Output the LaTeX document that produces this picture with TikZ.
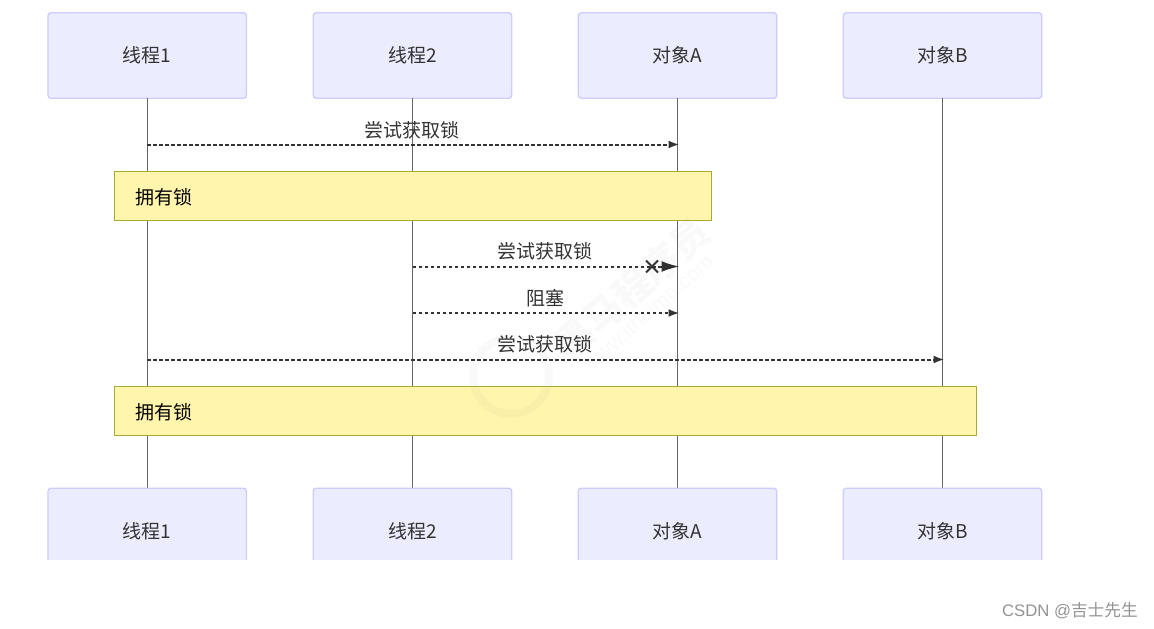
\documentclass[tikz,border=0pt]{standalone}
\usepackage{fontspec}
\setmainfont{Noto Sans CJK SC}
\newfontfamily\latinmark{Liberation Sans}
\usetikzlibrary{arrows.meta}
\definecolor{actorfill}{HTML}{ECECFF}
\definecolor{actorline}{HTML}{CCCCFF}
\definecolor{notefill}{HTML}{FFF5AD}
\definecolor{noteline}{HTML}{AAAA33}
\definecolor{ink}{HTML}{333333}
\tikzset{
  x=1pt,y=-1pt,
  actorbox/.style={draw=actorline,fill=actorfill,line width=1.4pt,rounded corners=3pt,minimum width=198.5pt,minimum height=85.5pt,inner sep=0pt,outer sep=0pt,text=ink,font=\fontsize{19}{22}\selectfont},
  actorlabel/.style={inner sep=0pt,text=ink,font=\fontsize{19}{22}\selectfont},
  lifeline/.style={draw=black!60,line width=1.2pt},
  dashline/.style={draw=ink,line width=2pt,dash pattern=on 3.5pt off 2.5pt},
  msg/.style={dashline,-{Latex[length=11pt,width=8pt]}},
  msglabel/.style={inner sep=0pt,text=ink,font=\fontsize{19}{22}\selectfont},
  notebox/.style={draw=noteline,fill=notefill,line width=1.2pt,minimum height=49pt,inner sep=0pt,outer sep=0pt,anchor=north west},
  notelabel/.style={inner sep=0pt,text=black,font=\fontsize{19}{22}\selectfont,anchor=west},
  marklabel/.style={inner sep=0pt,text=gray!85,font=\fontsize{16.7}{20}\selectfont},
  wmtext/.style={inner sep=0pt,text=black,text opacity=0.025,rotate=41},
}
\begin{document}
\begin{tikzpicture}
\useasboundingbox (0,0) rectangle (1154,629);
% top actors
\node[actorbox] (a1) at (147.2,55.5) {线程1};
\node[actorbox] (a2) at (412.5,55.5) {线程2};
\node[actorbox] (a3) at (677.5,55.5) {对象A};
\node[actorbox] (a4) at (942.5,55.5) {对象B};
% bottom anchors
\coordinate (b1) at (147.2,488);
\coordinate (b2) at (412.5,488);
\coordinate (b3) at (677.5,488);
\coordinate (b4) at (942.5,488);
% lifelines
\draw[lifeline] (a1.south) -- (b1);
\draw[lifeline] (a2.south) -- (b2);
\draw[lifeline] (a3.south) -- (b3);
\draw[lifeline] (a4.south) -- (b4);
% bottom actors, cut off at y=560
\begin{scope}
\clip (0,480) rectangle (1154,559.5);
\node[actorbox] (c1) at (147.2,531) {};
\node[actorbox] (c2) at (412.5,531) {};
\node[actorbox] (c3) at (677.5,531) {};
\node[actorbox] (c4) at (942.5,531) {};
\end{scope}
\node[actorlabel] (t1) at (147,531) {线程1};
\node[actorlabel] (t2) at (412.5,531) {线程2};
\node[actorlabel] (t3) at (677.5,531) {对象A};
\node[actorlabel] (t4) at (942.5,531) {对象B};
% message endpoints
\coordinate (m1s) at (147.2,144.5); \coordinate (m1e) at (679.5,144.5);
\coordinate (m2s) at (412.5,266.5); \coordinate (m2x) at (652,266.5); \coordinate (m2e) at (679.5,266.5);
\coordinate (m3s) at (412.5,313); \coordinate (m3e) at (679.5,313);
\coordinate (m4s) at (147.2,359.5); \coordinate (m4e) at (944.5,359.5);
\draw[msg] (m1s) -- (m1e);
\node[msglabel] (l1) at (412,130) {尝试获取锁};
% notes
\node[notebox,minimum width=597pt] (n1) at (114.5,171.5) {};
\node[notelabel] (n1t) at (135,197) {拥有锁};
\draw[dashline] (m2s) -- (m2x);
\draw[dashline,-{Latex[length=18pt,width=11pt]}] (m2x) -- (m2e);
\draw[draw=ink,line width=1.8pt] ([shift={(-6,-6)}]m2x) -- ([shift={(6,6)}]m2x) ([shift={(-6,6)}]m2x) -- ([shift={(6,-6)}]m2x);
\node[msglabel] (l2) at (545,251) {尝试获取锁};
\draw[msg] (m3s) -- (m3e);
\node[msglabel] (l3) at (545,298) {阻塞};
\draw[msg] (m4s) -- (m4e);
\node[msglabel] (l4) at (545,344) {尝试获取锁};
\node[notebox,minimum width=862pt] (n2) at (114.5,386.5) {};
\node[notelabel] (n2t) at (135,412) {拥有锁};
% credit
\node[marklabel,anchor=east] (csdn) at (1138,611) {\latinmark CSDN @\rmfamily 吉士先生};
% watermark
\node[wmtext,font=\fontsize{38}{40}\selectfont\bfseries] (wmcn) at (632,288) {黑马程序员};
\node[wmtext,font=\latinmark\fontsize{21}{24}\selectfont] (wmen) at (648,312) {www.itheima.com};
\node[circle,draw=black,draw opacity=0.025,line width=8pt,minimum size=76pt,inner sep=0pt] (wmlogo) at (511,376) {};
\end{tikzpicture}
\end{document}
